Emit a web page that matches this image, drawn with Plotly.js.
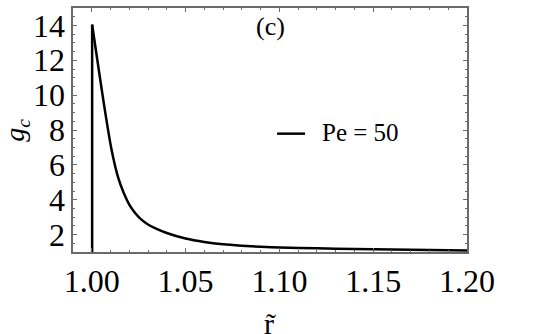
<!DOCTYPE html>
<html>
<head>
<meta charset="utf-8">
<script src="https://cdn.plot.ly/plotly-3.0.1.min.js"></script>
<style>html,body{margin:0;padding:0;background:#fff;}#chart{width:538px;height:334px;}</style>
</head>
<body>
<div id="chart"></div>
<script>
// Data
var wallX = [1.0002, 1.0002];
var wallG = [1.0, 14.05];
var rx = [1.0002, 1.0034, 1.0069, 1.0105, 1.0140, 1.0170, 1.0200, 1.0230, 1.0260, 1.0300, 1.0340, 1.0400, 1.0500, 1.0600, 1.0700, 1.0800, 1.0900, 1.1000, 1.1200, 1.1400, 1.1600, 1.1800, 1.2000];
var gc = [14.05, 11.7, 9.2, 6.9, 5.3, 4.4, 3.72, 3.25, 2.9, 2.58, 2.36, 2.09, 1.77, 1.57, 1.44, 1.36, 1.30, 1.26, 1.21, 1.17, 1.14, 1.11, 1.08];
var seriesName = 'Pe = 50';
var xTitle = 'r\u0303';
var yTitle = '<i>g</i><sub><i>c</i></sub>';
var xTickVals = [1.00, 1.05, 1.10, 1.15, 1.20];
var xTickText = ['1.00', '1.05', '1.10', '1.15', '1.20'];
var yTickVals = [2, 4, 6, 8, 10, 12, 14];
var yTickText = ['2', '4', '6', '8', '10', '12', '14'];

var serif = '"Liberation Serif", "Times New Roman", serif';
var frameColor = '#6a6a6a';

var wall = {
  x: wallX, y: wallG, type: 'scatter', mode: 'lines',
  line: {color: '#000000', width: 2.5}, showlegend: false, hoverinfo: 'skip'
};
var trace = {
  x: rx, y: gc, type: 'scatter', mode: 'lines',
  line: {color: '#000000', width: 2.5, shape: 'spline', smoothing: 0.8},
  name: seriesName, showlegend: false, hoverinfo: 'skip'
};

var axisCommon = {
  showgrid: false, zeroline: false, showline: true, linecolor: frameColor, linewidth: 1.6,
  mirror: 'allticks', ticks: 'inside', ticklen: 4, tickwidth: 1, tickcolor: frameColor,
  tickfont: {family: serif, size: 32, color: '#000'}
};

var layout = {
  width: 538, height: 334,
  margin: {l: 73, r: 71, t: 8, b: 82, pad: 0},
  paper_bgcolor: '#fff', plot_bgcolor: '#fff',
  xaxis: Object.assign({}, axisCommon, {
    range: [0.99, 1.2], tickmode: 'array', tickvals: xTickVals, ticktext: xTickText,
    minor: {dtick: 0.01, ticks: 'inside', ticklen: 2, tickcolor: frameColor}
  }),
  yaxis: Object.assign({}, axisCommon, {
    range: [1, 15], tickmode: 'array', tickvals: yTickVals, ticktext: yTickText,
    minor: {dtick: 0.5, ticks: 'inside', ticklen: 2, tickcolor: frameColor}
  }),
  shapes: [{
    type: 'line', xref: 'paper', yref: 'paper', x0: 0.518, x1: 0.589, y0: 0.485, y1: 0.485,
    line: {color: '#000', width: 2.5}
  }],
  annotations: [
    {text: '(c)', xref: 'paper', yref: 'paper', x: 0.501, y: 0.925, xanchor: 'center', yanchor: 'middle',
     showarrow: false, font: {family: serif, size: 26, color: '#000'}},
    {text: seriesName, xref: 'paper', yref: 'paper', x: 0.627, y: 0.49, xanchor: 'left', yanchor: 'middle',
     showarrow: false, font: {family: serif, size: 25, color: '#000'}},
    {text: xTitle, xref: 'paper', yref: 'paper', x: 0.5, y: -0.295, xanchor: 'center', yanchor: 'middle',
     showarrow: false, font: {family: serif, size: 30, color: '#000'}},
    {text: yTitle, xref: 'paper', yref: 'paper', x: -0.145, y: 0.5, xanchor: 'center', yanchor: 'middle',
     textangle: -90, showarrow: false, font: {family: serif, size: 28, color: '#000'}}
  ]
};

Plotly.newPlot('chart', [wall, trace], layout, {staticPlot: true, displayModeBar: false});
</script>
</body>
</html>
